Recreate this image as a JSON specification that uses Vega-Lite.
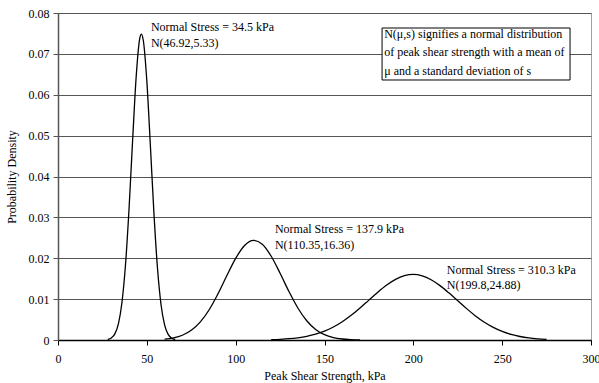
{
  "$schema": "https://vega.github.io/schema/vega-lite/v6.json",
  "width": 533,
  "height": 327,
  "autosize": {"type": "none"},
  "padding": {"left": 58, "top": 13, "right": 8, "bottom": 43},
  "background": "white",
  "config": {
    "view": {"stroke": "#a0a0a0", "strokeWidth": 1},
    "font": "Liberation Serif",
    "axis": {"labelFont": "Liberation Serif", "titleFont": "Liberation Serif", "labelFontSize": 12, "titleFontSize": 12, "titleFontWeight": "normal", "labelColor": "black", "titleColor": "black"}
  },
  "datasets": {
    "curves": [
      {"series": "34.5", "x": 28, "y": 0.000137},
      {"series": "34.5", "x": 30, "y": 0.000486},
      {"series": "34.5", "x": 32, "y": 0.001489},
      {"series": "34.5", "x": 34, "y": 0.003966},
      {"series": "34.5", "x": 36, "y": 0.009175},
      {"series": "34.5", "x": 38, "y": 0.018455},
      {"series": "34.5", "x": 40, "y": 0.03222},
      {"series": "34.5", "x": 42, "y": 0.04889},
      {"series": "34.5", "x": 44, "y": 0.06442},
      {"series": "34.5", "x": 46, "y": 0.07374},
      {"series": "34.5", "x": 46.92, "y": 0.07485},
      {"series": "34.5", "x": 48, "y": 0.07333},
      {"series": "34.5", "x": 50, "y": 0.06334},
      {"series": "34.5", "x": 52, "y": 0.04753},
      {"series": "34.5", "x": 54, "y": 0.03098},
      {"series": "34.5", "x": 56, "y": 0.01754},
      {"series": "34.5", "x": 58, "y": 0.008627},
      {"series": "34.5", "x": 60, "y": 0.003686},
      {"series": "34.5", "x": 62, "y": 0.001368},
      {"series": "34.5", "x": 64, "y": 0.000441},
      {"series": "34.5", "x": 66, "y": 0.000124},
      {"series": "137.9", "x": 60, "y": 0.000214},
      {"series": "137.9", "x": 65, "y": 0.000523},
      {"series": "137.9", "x": 70, "y": 0.001165},
      {"series": "137.9", "x": 75, "y": 0.002362},
      {"series": "137.9", "x": 80, "y": 0.004364},
      {"series": "137.9", "x": 85, "y": 0.007341},
      {"series": "137.9", "x": 90, "y": 0.01125},
      {"series": "137.9", "x": 95, "y": 0.0157},
      {"series": "137.9", "x": 100, "y": 0.01996},
      {"series": "137.9", "x": 105, "y": 0.02312},
      {"series": "137.9", "x": 110, "y": 0.02438},
      {"series": "137.9", "x": 115, "y": 0.02342},
      {"series": "137.9", "x": 120, "y": 0.02049},
      {"series": "137.9", "x": 125, "y": 0.01633},
      {"series": "137.9", "x": 130, "y": 0.01185},
      {"series": "137.9", "x": 135, "y": 0.007837},
      {"series": "137.9", "x": 140, "y": 0.004719},
      {"series": "137.9", "x": 145, "y": 0.002588},
      {"series": "137.9", "x": 150, "y": 0.001293},
      {"series": "137.9", "x": 155, "y": 0.000588},
      {"series": "137.9", "x": 160, "y": 0.000244},
      {"series": "137.9", "x": 165, "y": 0.000092},
      {"series": "137.9", "x": 170, "y": 0.0000317},
      {"series": "310.3", "x": 120, "y": 0.0000936},
      {"series": "310.3", "x": 125, "y": 0.000175},
      {"series": "310.3", "x": 130, "y": 0.000313},
      {"series": "310.3", "x": 135, "y": 0.00054},
      {"series": "310.3", "x": 140, "y": 0.000893},
      {"series": "310.3", "x": 145, "y": 0.001418},
      {"series": "310.3", "x": 150, "y": 0.002163},
      {"series": "310.3", "x": 155, "y": 0.00317},
      {"series": "310.3", "x": 160, "y": 0.00446},
      {"series": "310.3", "x": 165, "y": 0.006029},
      {"series": "310.3", "x": 170, "y": 0.007826},
      {"series": "310.3", "x": 175, "y": 0.009757},
      {"series": "310.3", "x": 180, "y": 0.011683},
      {"series": "310.3", "x": 185, "y": 0.013435},
      {"series": "310.3", "x": 190, "y": 0.014838},
      {"series": "310.3", "x": 195, "y": 0.015739},
      {"series": "310.3", "x": 200, "y": 0.016034},
      {"series": "310.3", "x": 205, "y": 0.015689},
      {"series": "310.3", "x": 210, "y": 0.014742},
      {"series": "310.3", "x": 215, "y": 0.013305},
      {"series": "310.3", "x": 220, "y": 0.011533},
      {"series": "310.3", "x": 225, "y": 0.009601},
      {"series": "310.3", "x": 230, "y": 0.007676},
      {"series": "310.3", "x": 235, "y": 0.005894},
      {"series": "310.3", "x": 240, "y": 0.004347},
      {"series": "310.3", "x": 245, "y": 0.003079},
      {"series": "310.3", "x": 250, "y": 0.002094},
      {"series": "310.3", "x": 255, "y": 0.001368},
      {"series": "310.3", "x": 260, "y": 0.000859},
      {"series": "310.3", "x": 265, "y": 0.000517},
      {"series": "310.3", "x": 270, "y": 0.0003},
      {"series": "310.3", "x": 275, "y": 0.000166}
    ],
    "labels": [
      {"x": 52.3, "y": 0.0765, "text": "Normal Stress = 34.5 kPa"},
      {"x": 52.3, "y": 0.07259, "text": "N(46.92,5.33)"},
      {"x": 122.1, "y": 0.02716, "text": "Normal Stress = 137.9 kPa"},
      {"x": 122.1, "y": 0.02324, "text": "N(110.35,16.36)"},
      {"x": 218.8, "y": 0.01713, "text": "Normal Stress = 310.3 kPa"},
      {"x": 218.8, "y": 0.01346, "text": "N(199.8,24.88)"}
    ],
    "box": [
      {"x": 182.4, "x2": 288.2, "y": 0.07633, "y2": 0.06361}
    ],
    "boxtext": [
      {"x": 183.6, "y": 0.07486, "text": "N(μ,s) signifies a normal distribution"},
      {"x": 183.6, "y": 0.07034, "text": "of peak shear strength with a mean of"},
      {"x": 183.6, "y": 0.06593, "text": "μ and a standard deviation of s"}
    ]
  },
  "layer": [
    {
      "data": {"name": "curves"},
      "mark": {"type": "line", "color": "black", "strokeWidth": 1.3, "interpolate": "monotone", "clip": true},
      "encoding": {
        "x": {
          "field": "x", "type": "quantitative",
          "scale": {"domain": [0, 300], "nice": false},
          "axis": {
            "title": "Peak Shear Strength, kPa",
            "values": [0, 50, 100, 150, 200, 250, 300],
            "grid": false,
            "domainColor": "black", "domainWidth": 1.5,
            "tickColor": "black", "tickSize": 5,
            "labelPadding": 8, "titlePadding": 6,
            "labelFlush": false
          }
        },
        "y": {
          "field": "y", "type": "quantitative",
          "scale": {"domain": [0, 0.08], "nice": false},
          "axis": {
            "title": "Probability Density",
            "values": [0, 0.01, 0.02, 0.03, 0.04, 0.05, 0.06, 0.07, 0.08],
            "labelExpr": "datum.value == 0 ? '0' : format(datum.value, '.2f')",
            "grid": true, "gridColor": "#555555", "gridWidth": 1,
            "domainColor": "#555555", "domainWidth": 1.5,
            "tickColor": "#555555", "tickSize": 5,
            "labelPadding": 4, "titlePadding": 10,
            "labelFlush": false
          }
        },
        "detail": {"field": "series"}
      }
    },
    {
      "data": {"name": "box"},
      "mark": {"type": "rect", "fill": "white", "stroke": "black", "strokeWidth": 1},
      "encoding": {
        "x": {"field": "x", "type": "quantitative"},
        "x2": {"field": "x2"},
        "y": {"field": "y", "type": "quantitative"},
        "y2": {"field": "y2"}
      }
    },
    {
      "data": {"name": "boxtext"},
      "mark": {"type": "text", "align": "left", "baseline": "middle", "fontSize": 12, "font": "Liberation Serif", "color": "black"},
      "encoding": {
        "x": {"field": "x", "type": "quantitative"},
        "y": {"field": "y", "type": "quantitative"},
        "text": {"field": "text"}
      }
    },
    {
      "data": {"name": "labels"},
      "mark": {"type": "text", "align": "left", "baseline": "middle", "fontSize": 12, "font": "Liberation Serif", "color": "black"},
      "encoding": {
        "x": {"field": "x", "type": "quantitative"},
        "y": {"field": "y", "type": "quantitative"},
        "text": {"field": "text"}
      }
    }
  ]
}
